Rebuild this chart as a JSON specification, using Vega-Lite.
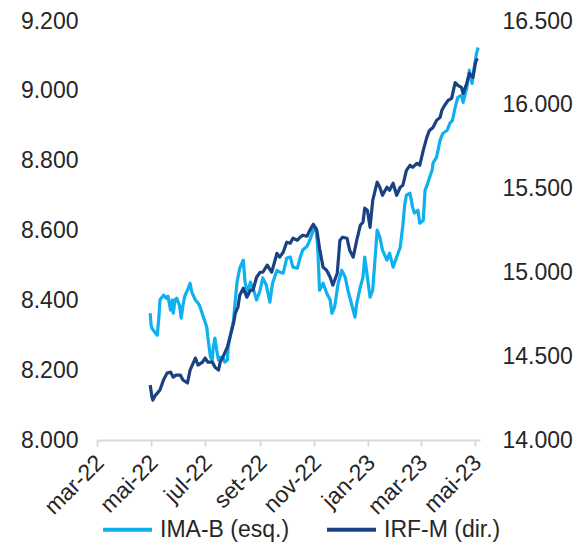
{
  "$schema": "https://vega.github.io/schema/vega-lite/v6.json",
  "width": 383,
  "height": 419,
  "autosize": {"type": "none"},
  "padding": {"left": 97, "top": 21, "right": 99, "bottom": 104},
  "background": "white",
  "config": {"view": {"stroke": null}, "font": "Liberation Sans"},
  "datasets": {
    "imab": [
      {"d":"2022-04-30","v":8363},{"d":"2022-05-01","v":8329},{"d":"2022-05-02","v":8320},{"d":"2022-05-06","v":8306},
      {"d":"2022-05-08","v":8300},{"d":"2022-05-10","v":8358},{"d":"2022-05-11","v":8401},{"d":"2022-05-15","v":8415},
      {"d":"2022-05-18","v":8406},{"d":"2022-05-20","v":8412},{"d":"2022-05-23","v":8372},{"d":"2022-05-25","v":8401},
      {"d":"2022-05-26","v":8363},{"d":"2022-05-28","v":8401},{"d":"2022-05-30","v":8406},{"d":"2022-06-02","v":8386},
      {"d":"2022-06-04","v":8349},{"d":"2022-06-06","v":8386},{"d":"2022-06-08","v":8412},{"d":"2022-06-12","v":8435},
      {"d":"2022-06-14","v":8449},{"d":"2022-06-16","v":8423},{"d":"2022-06-20","v":8401},{"d":"2022-06-23","v":8392},
      {"d":"2022-06-25","v":8383},{"d":"2022-06-29","v":8352},{"d":"2022-07-01","v":8338},{"d":"2022-07-03","v":8320},
      {"d":"2022-07-04","v":8295},{"d":"2022-07-07","v":8237},{"d":"2022-07-09","v":8229},{"d":"2022-07-10","v":8263},
      {"d":"2022-07-12","v":8292},{"d":"2022-07-14","v":8258},{"d":"2022-07-16","v":8229},{"d":"2022-07-18","v":8237},
      {"d":"2022-07-21","v":8237},{"d":"2022-07-23","v":8223},{"d":"2022-07-26","v":8229},{"d":"2022-07-27","v":8266},
      {"d":"2022-07-29","v":8295},{"d":"2022-08-02","v":8343},{"d":"2022-08-04","v":8401},{"d":"2022-08-06","v":8452},
      {"d":"2022-08-09","v":8492},{"d":"2022-08-13","v":8515},{"d":"2022-08-15","v":8452},{"d":"2022-08-18","v":8421},
      {"d":"2022-08-21","v":8452},{"d":"2022-08-24","v":8435},{"d":"2022-08-28","v":8401},{"d":"2022-09-01","v":8429},
      {"d":"2022-09-04","v":8464},{"d":"2022-09-08","v":8443},{"d":"2022-09-12","v":8395},{"d":"2022-09-15","v":8449},
      {"d":"2022-09-20","v":8486},{"d":"2022-09-23","v":8481},{"d":"2022-09-27","v":8478},{"d":"2022-10-01","v":8521},
      {"d":"2022-10-05","v":8524},{"d":"2022-10-08","v":8495},{"d":"2022-10-13","v":8492},{"d":"2022-10-16","v":8521},
      {"d":"2022-10-19","v":8544},{"d":"2022-10-24","v":8555},{"d":"2022-10-27","v":8572},{"d":"2022-10-31","v":8601},
      {"d":"2022-11-03","v":8607},{"d":"2022-11-05","v":8552},{"d":"2022-11-07","v":8429},{"d":"2022-11-11","v":8449},
      {"d":"2022-11-15","v":8421},{"d":"2022-11-19","v":8401},{"d":"2022-11-21","v":8363},{"d":"2022-11-24","v":8381},
      {"d":"2022-11-28","v":8449},{"d":"2022-12-02","v":8486},{"d":"2022-12-06","v":8466},{"d":"2022-12-09","v":8429},
      {"d":"2022-12-14","v":8381},{"d":"2022-12-17","v":8352},{"d":"2022-12-19","v":8392},{"d":"2022-12-23","v":8438},
      {"d":"2022-12-26","v":8466},{"d":"2022-12-28","v":8524},{"d":"2022-12-31","v":8466},{"d":"2023-01-03","v":8409},
      {"d":"2023-01-06","v":8429},{"d":"2023-01-11","v":8601},{"d":"2023-01-14","v":8581},{"d":"2023-01-17","v":8544},
      {"d":"2023-01-22","v":8515},{"d":"2023-01-25","v":8535},{"d":"2023-01-29","v":8495},{"d":"2023-02-02","v":8524},
      {"d":"2023-02-06","v":8552},{"d":"2023-02-09","v":8615},{"d":"2023-02-11","v":8672},{"d":"2023-02-13","v":8701},
      {"d":"2023-02-17","v":8707},{"d":"2023-02-20","v":8667},{"d":"2023-02-22","v":8650},{"d":"2023-02-26","v":8658},
      {"d":"2023-02-28","v":8621},{"d":"2023-03-04","v":8629},{"d":"2023-03-06","v":8715},{"d":"2023-03-09","v":8735},
      {"d":"2023-03-14","v":8773},{"d":"2023-03-15","v":8793},{"d":"2023-03-19","v":8810},{"d":"2023-03-23","v":8858},
      {"d":"2023-03-26","v":8878},{"d":"2023-03-31","v":8887},{"d":"2023-04-03","v":8907},{"d":"2023-04-06","v":8916},
      {"d":"2023-04-09","v":8953},{"d":"2023-04-12","v":8981},{"d":"2023-04-16","v":8987},{"d":"2023-04-18","v":8967},
      {"d":"2023-04-22","v":9007},{"d":"2023-04-25","v":9059},{"d":"2023-04-28","v":9021},{"d":"2023-04-30","v":9059},
      {"d":"2023-05-03","v":9107},{"d":"2023-05-05","v":9124}
    ],
    "irfm": [
      {"d":"2022-04-30","v":14328},{"d":"2022-05-02","v":14256},{"d":"2022-05-03","v":14238},{"d":"2022-05-06","v":14268},
      {"d":"2022-05-08","v":14280},{"d":"2022-05-11","v":14298},{"d":"2022-05-15","v":14358},{"d":"2022-05-19","v":14399},
      {"d":"2022-05-23","v":14405},{"d":"2022-05-26","v":14375},{"d":"2022-05-29","v":14387},{"d":"2022-06-03","v":14387},
      {"d":"2022-06-06","v":14358},{"d":"2022-06-11","v":14340},{"d":"2022-06-14","v":14417},{"d":"2022-06-20","v":14489},
      {"d":"2022-06-23","v":14447},{"d":"2022-06-28","v":14465},{"d":"2022-07-01","v":14489},{"d":"2022-07-04","v":14465},
      {"d":"2022-07-09","v":14465},{"d":"2022-07-12","v":14435},{"d":"2022-07-16","v":14417},{"d":"2022-07-18","v":14465},
      {"d":"2022-07-21","v":14495},{"d":"2022-07-26","v":14554},{"d":"2022-07-29","v":14614},{"d":"2022-08-02","v":14697},
      {"d":"2022-08-04","v":14757},{"d":"2022-08-07","v":14793},{"d":"2022-08-09","v":14864},{"d":"2022-08-13","v":14906},
      {"d":"2022-08-17","v":14852},{"d":"2022-08-21","v":14894},{"d":"2022-08-24","v":14894},{"d":"2022-08-28","v":14971},
      {"d":"2022-09-01","v":15001},{"d":"2022-09-04","v":15001},{"d":"2022-09-09","v":15043},{"d":"2022-09-14","v":15001},
      {"d":"2022-09-20","v":15114},{"d":"2022-09-23","v":15091},{"d":"2022-09-27","v":15120},{"d":"2022-10-01","v":15180},
      {"d":"2022-10-05","v":15174},{"d":"2022-10-08","v":15204},{"d":"2022-10-13","v":15192},{"d":"2022-10-16","v":15210},
      {"d":"2022-10-19","v":15222},{"d":"2022-10-24","v":15216},{"d":"2022-10-27","v":15251},{"d":"2022-10-31","v":15287},
      {"d":"2022-11-04","v":15251},{"d":"2022-11-07","v":15144},{"d":"2022-11-11","v":15031},{"d":"2022-11-15","v":15013},
      {"d":"2022-11-19","v":14971},{"d":"2022-11-22","v":14924},{"d":"2022-11-27","v":14995},{"d":"2022-11-30","v":15192},
      {"d":"2022-12-03","v":15210},{"d":"2022-12-08","v":15204},{"d":"2022-12-11","v":15132},{"d":"2022-12-15","v":15091},
      {"d":"2022-12-19","v":15192},{"d":"2022-12-23","v":15281},{"d":"2022-12-26","v":15299},{"d":"2022-12-28","v":15383},
      {"d":"2022-12-31","v":15371},{"d":"2023-01-03","v":15269},{"d":"2023-01-06","v":15430},{"d":"2023-01-11","v":15538},
      {"d":"2023-01-14","v":15508},{"d":"2023-01-17","v":15460},{"d":"2023-01-22","v":15508},{"d":"2023-01-25","v":15490},
      {"d":"2023-01-29","v":15532},{"d":"2023-02-02","v":15460},{"d":"2023-02-06","v":15508},{"d":"2023-02-09","v":15520},
      {"d":"2023-02-13","v":15609},{"d":"2023-02-17","v":15639},{"d":"2023-02-20","v":15627},{"d":"2023-02-25","v":15651},
      {"d":"2023-02-28","v":15639},{"d":"2023-03-04","v":15728},{"d":"2023-03-08","v":15806},{"d":"2023-03-11","v":15847},
      {"d":"2023-03-15","v":15865},{"d":"2023-03-19","v":15907},{"d":"2023-03-23","v":15925},{"d":"2023-03-25","v":15967},
      {"d":"2023-03-28","v":15996},{"d":"2023-04-01","v":16026},{"d":"2023-04-05","v":16038},{"d":"2023-04-09","v":16133},
      {"d":"2023-04-12","v":16116},{"d":"2023-04-16","v":16104},{"d":"2023-04-18","v":16068},{"d":"2023-04-22","v":16127},
      {"d":"2023-04-25","v":16187},{"d":"2023-04-29","v":16163},{"d":"2023-05-02","v":16253},{"d":"2023-05-04","v":16277}
    ]
  },
  "encoding": {
    "x": {
      "field": "d",
      "type": "temporal",
      "scale": {
        "type": "utc",
        "domain": [
          {"year": 2022, "month": 3, "date": 1, "utc": true},
          {"year": 2023, "month": 5, "date": 7, "utc": true}
        ]
      },
      "axis": {
        "title": null,
        "grid": false,
        "values": [
          {"year": 2022, "month": 3, "date": 1, "utc": true},
          {"year": 2022, "month": 5, "date": 1, "utc": true},
          {"year": 2022, "month": 7, "date": 1, "utc": true},
          {"year": 2022, "month": 9, "date": 1, "utc": true},
          {"year": 2022, "month": 11, "date": 1, "utc": true},
          {"year": 2023, "month": 1, "date": 1, "utc": true},
          {"year": 2023, "month": 3, "date": 1, "utc": true},
          {"year": 2023, "month": 5, "date": 1, "utc": true}
        ],
        "labelExpr": "['jan','fev','mar','abr','mai','jun','jul','ago','set','out','nov','dez'][utcmonth(datum.value)] + '-' + utcFormat(datum.value, '%y')",
        "labelAngle": -45,
        "labelAlign": "right",
        "labelBaseline": "top",
        "labelFontSize": 23,
        "labelColor": "#262626",
        "labelPadding": 5,
        "labelOffset": -5,
        "labelFlush": false,
        "labelOverlap": false,
        "labelBound": false,
        "domainColor": "#D9D9D9",
        "domainWidth": 2,
        "tickColor": "#D9D9D9",
        "tickWidth": 2,
        "tickSize": 6
      }
    }
  },
  "layer": [
    {
      "data": {"name": "imab"},
      "mark": {"type": "line", "strokeWidth": 3.2, "strokeJoin": "round"},
      "encoding": {
        "y": {
          "field": "v",
          "type": "quantitative",
          "scale": {"domain": [8000, 9200], "zero": false, "nice": false},
          "axis": {
            "orient": "left",
            "title": null,
            "grid": false,
            "domain": false,
            "ticks": false,
            "values": [8000, 8200, 8400, 8600, 8800, 9000, 9200],
            "labelExpr": "replace(format(datum.value, ','), ',', '.')",
            "labelFontSize": 23,
            "labelColor": "#262626",
            "labelPadding": 19,
            "labelFlush": false
          }
        },
        "color": {
          "datum": "IMA-B (esq.)",
          "type": "nominal",
          "scale": {"domain": ["IMA-B (esq.)", "IRF-M (dir.)"], "range": ["#0FB0EE", "#1A4282"]},
          "legend": {
            "title": null,
            "orient": "none",
            "direction": "horizontal",
            "legendX": 4,
            "legendY": 482,
            "symbolType": "stroke",
            "symbolSize": 2400,
            "symbolStrokeWidth": 4,
            "labelFontSize": 23,
            "labelColor": "#262626",
            "labelOffset": 6,
            "columnPadding": 29
          }
        }
      }
    },
    {
      "data": {"name": "irfm"},
      "mark": {"type": "line", "strokeWidth": 3.2, "strokeJoin": "round"},
      "encoding": {
        "y": {
          "field": "v",
          "type": "quantitative",
          "scale": {"domain": [14000, 16500], "zero": false, "nice": false},
          "axis": {
            "orient": "right",
            "title": null,
            "grid": false,
            "domain": false,
            "ticks": false,
            "values": [14000, 14500, 15000, 15500, 16000, 16500],
            "labelExpr": "replace(format(datum.value, ','), ',', '.')",
            "labelFontSize": 23,
            "labelColor": "#262626",
            "labelPadding": 22,
            "labelFlush": false
          }
        },
        "color": {"datum": "IRF-M (dir.)", "type": "nominal"}
      }
    }
  ],
  "resolve": {"scale": {"y": "independent"}}
}
